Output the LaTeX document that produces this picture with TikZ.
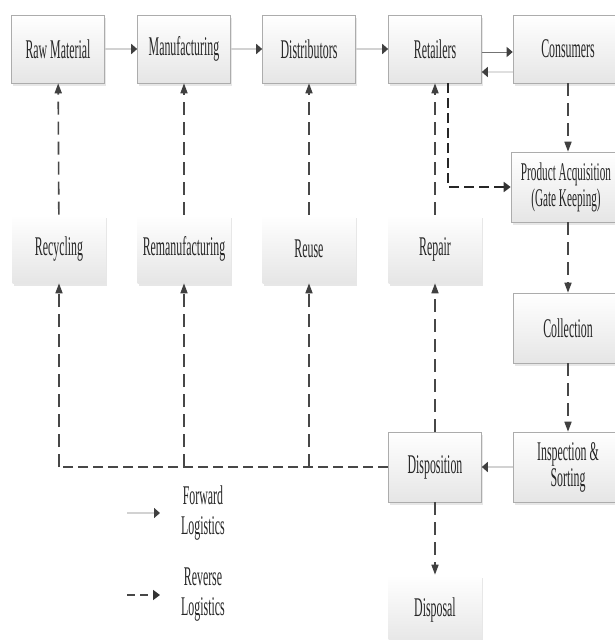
\documentclass[tikz,border=0pt]{standalone}
\usepackage{fontspec}
\setmainfont{Liberation Serif}[FakeStretch=0.44]
\usetikzlibrary{arrows.meta,shadows}

\begin{document}
\begin{tikzpicture}[x=1pt,y=-1pt,
			every node/.style = {align=center, text=black!85,
				font=\fontsize{27}{26}\selectfont},
			box/.style = {shape=rectangle, draw=gray!65, line width=0.6pt,
				top color=white, bottom color=gray!20,
				minimum width=93pt, minimum height=68pt,
				drop shadow={shadow xshift=1.5pt, shadow yshift=-2.5pt, fill=black!18}},
			widebox/.style = {box, minimum width=110pt, minimum height=70pt},
			softbox/.style = {box, draw=none},
			fwd/.style = {draw=gray!35, line width=2.5pt,
				-{Triangle[length=6pt,width=10pt,color=black!75]}},
			rev/.style = {draw=black!72, line width=1.6pt, dash pattern=on 13pt off 7pt,
				-{Triangle[length=10pt,width=7pt,color=black!75]}},
			revh/.style = {rev, dash pattern=on 10pt off 5pt,
				-{Triangle[length=7pt,width=10pt,color=black!80]}}]
	\useasboundingbox[fill=white] (0,0) rectangle (614,640);

	% forward chain
	\node[box] (raw)  at (58,49)  {Raw Material};
	\node[box] (manu) at (184,49) {Manufacturing};
	\node[box] (dist) at (309,49) {Distributors};
	\node[box] (ret)  at (435,49) {Retailers};
	\node[box, minimum width=110pt] (cons) at (568,49) {Consumers};

	% recovery options
	\node[softbox] (recy)   at (59,249)  {Recycling};
	\node[softbox] (reman)  at (184,249) {Remanufacturing};
	\node[softbox] (reuse)  at (309,249) {Reuse};
	\node[softbox] (repair) at (435,249) {Repair};

	% reverse chain
	\node[widebox, font=\fontsize{25.5}{26}\selectfont] (acq) at (566,187) {Product Acquisition\\(Gate Keeping)};
	\node[widebox] (coll) at (568,328) {Collection};
	\node[widebox] (insp) at (568,467) {Inspection \&\\Sorting};
	\node[box, minimum height=70pt] (disp) at (435,467) {Disposition};
	\node[softbox, minimum height=70pt] (dispo) at (435,610) {Disposal};

	% legend
	\coordinate (fa) at (127,513);
	\coordinate (fb) at (160,513);
	\coordinate (ra) at (127,595);
	\coordinate (rb) at (160,595);
	\coordinate (turn) at (recy.south |- disp.west);
	\node[font=\fontsize{27}{30}\selectfont] (fwdtext) at (203,513) {Forward\\Logistics};
	\node[font=\fontsize{27}{30}\selectfont] (revtext) at (203,595) {Reverse\\Logistics};

	% forward flows
	\draw[fwd] (raw) -- (manu);
	\draw[fwd] (manu) -- (dist);
	\draw[fwd] (dist) -- (ret);
	\draw[fwd, draw=black!55, line width=0.8pt] ([yshift=-3pt]ret.east) -- ([yshift=-3pt]cons.west);
	\draw[fwd, draw=gray!25] ([yshift=-23pt]cons.west) -- ([yshift=-23pt]ret.east);
	\draw[fwd] (insp) -- (disp);
	\draw[fwd] (fa) -- (fb);

	% reverse flows
	\draw[rev] (cons.south) -- (cons.south |- acq.north);
	\draw[revh, draw=black!85, line width=2pt] ([xshift=13pt]ret.south) |- (acq.west);
	\draw[rev] (coll.north |- acq.south) -- (coll.north);
	\draw[rev] (coll) -- (insp);
	\draw[rev] (disp) -- (repair);
	\draw[rev] (repair) -- (ret);
	\draw[rev] (disp) -- (dispo);
	\draw[revh, -] (disp.west) -- (turn);
	\draw[rev] (turn) -- (recy.south);
	\draw[rev] (reman.south |- disp.west) -- (reman.south);
	\draw[rev] (reuse.south |- disp.west) -- (reuse.south);
	\draw[rev] (recy) -- (raw);
	\draw[rev] (reman) -- (manu);
	\draw[rev] (reuse) -- (dist);
	\draw[revh, dash pattern=on 8pt off 5pt] (ra) -- (rb);
\end{tikzpicture}
\end{document}
